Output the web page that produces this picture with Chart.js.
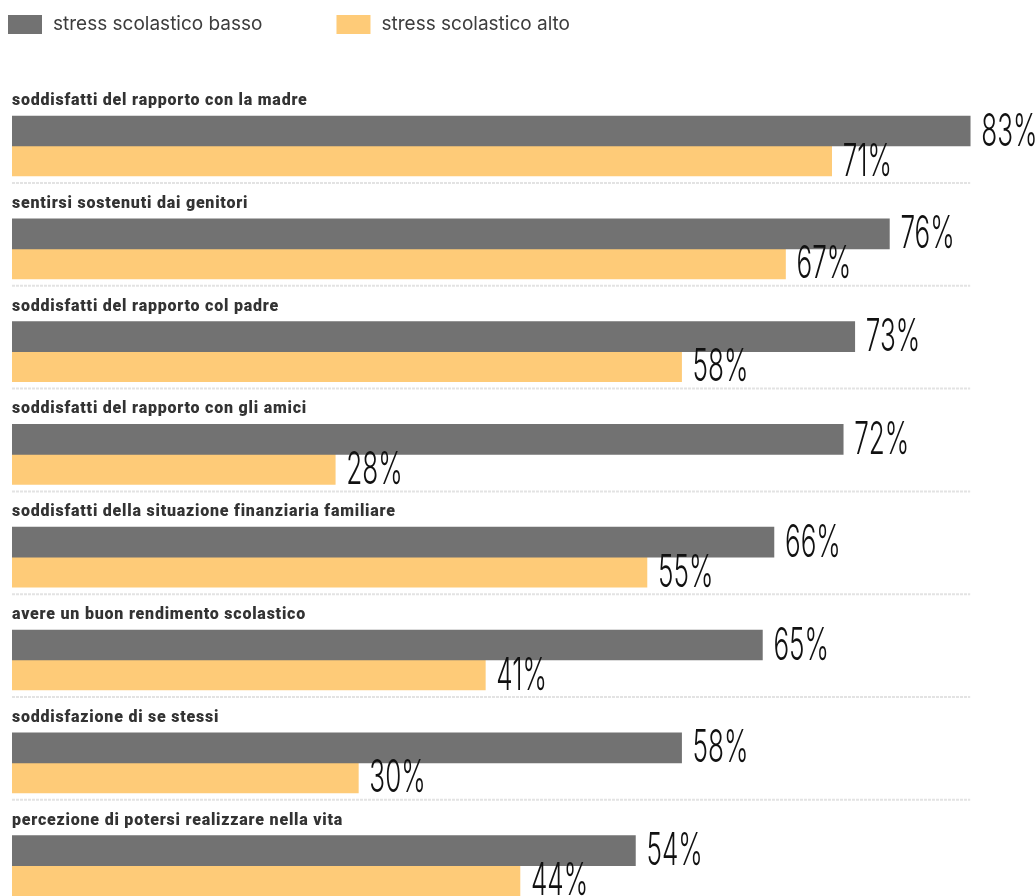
<!DOCTYPE html>
<html>
<head>
<meta charset="utf-8">
<script src="https://cdn.jsdelivr.net/npm/chart.js@4.4.0/dist/chart.umd.min.js"></script>
<style>
  html, body { margin: 0; padding: 0; background: #ffffff; overflow: hidden; }
  #wrap { position: relative; width: 1036px; height: 920px; }
</style>
</head>
<body>
<div id="wrap"><canvas id="c"></canvas></div>
<script>
const categories = [
  "soddisfatti del rapporto con la madre",
  "sentirsi sostenuti dai genitori",
  "soddisfatti del rapporto col padre",
  "soddisfatti del rapporto con gli amici",
  "soddisfatti della situazione finanziaria familiare",
  "avere un buon rendimento scolastico",
  "soddisfazione di se stessi",
  "percezione di potersi realizzare nella vita"
];
const seriesNames = ["stress scolastico basso", "stress scolastico alto"];
const stressBasso = [83, 76, 73, 72, 66, 65, 58, 54];
const stressAlto  = [71, 67, 58, 28, 55, 41, 30, 44];
const colors = ["#727272", "#FECB78"];

const overlayPlugin = {
  id: 'overlay',
  afterDatasetsDraw(chart) {
    const ctx = chart.ctx;
    const yScale = chart.scales.y;
    const xScale = chart.scales.x;
    const sepRight = xScale.getPixelForValue(Math.max(...stressBasso, ...stressAlto));
    ctx.save();
    // category labels and separators
    categories.forEach((cat, i) => {
      const cy = yScale.getPixelForValue(i);
      ctx.font = "900 16px Roboto";
      ctx.letterSpacing = "0.78px";
      ctx.fillStyle = "#333333";
      ctx.textBaseline = "middle";
      ctx.textAlign = "left";
      ctx.fillText(cat, chart.chartArea.left, cy - 45);
      ctx.letterSpacing = "0px";
      ctx.strokeStyle = "#e3e3e3";
      ctx.lineWidth = 2;
      ctx.setLineDash([3, 1]);
      ctx.beginPath();
      ctx.moveTo(chart.chartArea.left, cy + 37);
      ctx.lineTo(sepRight, cy + 37);
      ctx.stroke();
      ctx.setLineDash([]);
    });
    // value labels
    chart.data.datasets.forEach((ds, di) => {
      const meta = chart.getDatasetMeta(di);
      meta.data.forEach((bar, i) => {
        const txt = ds.data[i] + "%";
        ctx.save();
        ctx.translate(bar.x + 11, bar.y + 1);
        ctx.scale(0.58, 1);
        ctx.font = "300 45px Inter";
        ctx.fillStyle = "#111111";
        ctx.textBaseline = "middle";
        ctx.textAlign = "left";
        ctx.fillText(txt, 0, 0);
        ctx.restore();
      });
    });
    // legend
    let x = 8;
    ctx.font = "19px Inter";
    ctx.textBaseline = "middle";
    chart.data.datasets.forEach((ds) => {
      ctx.fillStyle = ds.backgroundColor;
      ctx.fillRect(x, 15, 34, 19);
      ctx.fillStyle = "#3d3d3d";
      ctx.fillText(ds.label, x + 45, 24);
      x = x + 45 + ctx.measureText(ds.label).width + 74;
    });
    ctx.restore();
  }
};

new Chart(document.getElementById('c'), {
  type: 'bar',
  data: {
    labels: categories,
    datasets: [
      { label: seriesNames[0], data: stressBasso, backgroundColor: colors[0], barThickness: 30 },
      { label: seriesNames[1], data: stressAlto, backgroundColor: colors[1], barThickness: 30 }
    ]
  },
  options: {
    indexAxis: 'y',
    responsive: true,
    maintainAspectRatio: false,
    animation: false,
    layout: { padding: { top: 94.6, left: 12, right: 0, bottom: 3 } },
    scales: {
      x: { display: false, min: 0, max: 88.7 },
      y: { display: false, offset: true }
    },
    plugins: {
      legend: { display: false },
      tooltip: { enabled: false }
    }
  },
  plugins: [overlayPlugin]
});
</script>
</body>
</html>
